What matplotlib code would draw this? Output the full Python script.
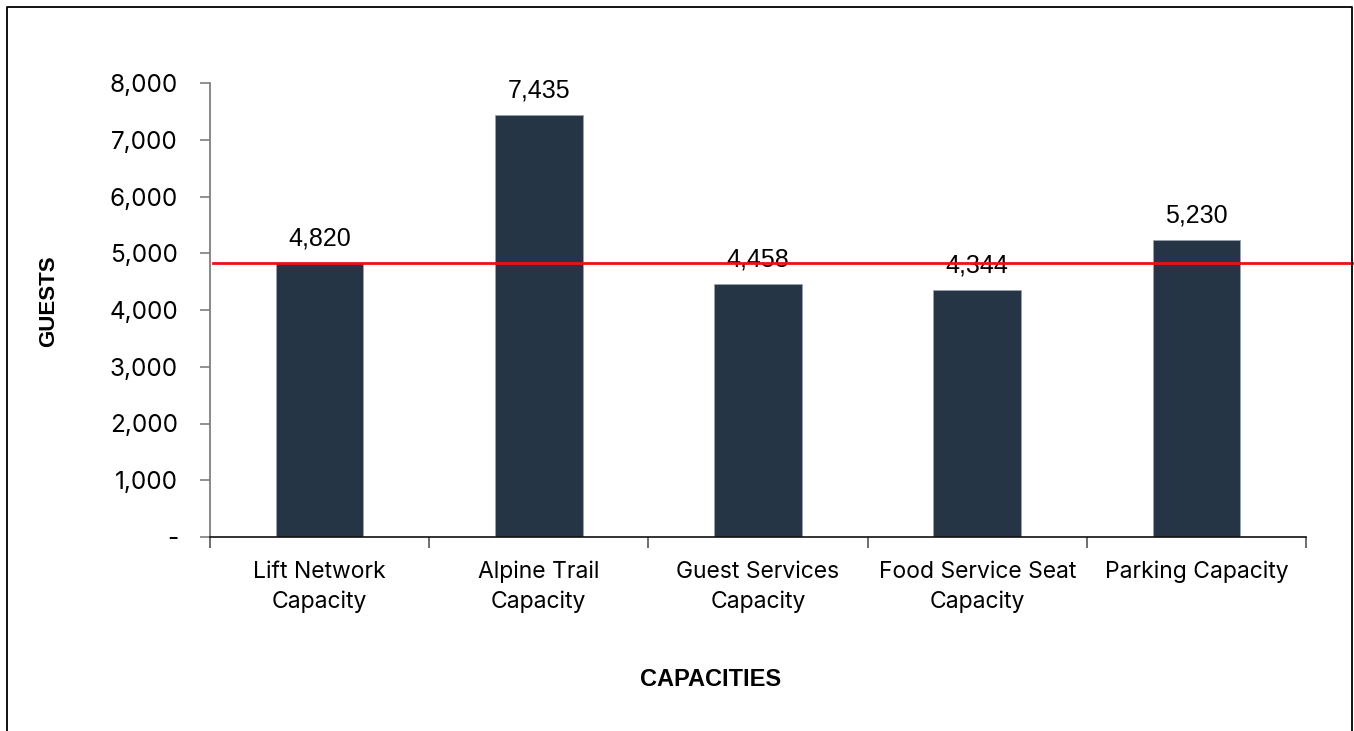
import matplotlib
matplotlib.use("Agg")
import matplotlib.pyplot as plt
from matplotlib.lines import Line2D
from matplotlib.ticker import FuncFormatter

categories = ["Lift Network\nCapacity", "Alpine Trail\nCapacity", "Guest Services\nCapacity",
              "Food Service Seat\nCapacity", "Parking Capacity"]
values = [4820, 7435, 4458, 4344, 5230]
yticks = [0, 1000, 2000, 3000, 4000, 5000, 6000, 7000, 8000]
reference_value = values[0]

W, H = 1354, 731
fig = plt.figure(figsize=(W / 100, H / 100), dpi=100)
ax = fig.add_axes([210 / W, 1 - 537 / H, (1306 - 210) / W, (537 - 83) / H])

x = list(range(len(categories)))
ax.bar(x, values, width=0.4, color="#263545", edgecolor="#9aa3ad", linewidth=0.6, zorder=2)

ax.set_xlim(-0.5, len(categories) - 0.5)
ax.set_ylim(0, 8000)
ax.set_yticks(yticks)
ax.yaxis.set_major_formatter(FuncFormatter(lambda v, p: "-" if v == 0 else f"{int(v):,}"))
ax.tick_params(axis="y", length=7, width=1.2, color="#7f7f7f", pad=16, labelsize=17.5)
for lab in ax.get_yticklabels():
    lab.set_fontfamily("Inter")

ax.set_xticks([i - 0.5 for i in range(len(categories) + 1)])
ax.set_xticklabels([])
ax.set_xticks(x, minor=True)
ax.set_xticklabels(categories, minor=True, fontsize=16.5, fontfamily="Inter", linespacing=1.44)
ax.tick_params(axis="x", which="major", length=8, width=1.2, color="#555555")
ax.tick_params(axis="x", which="minor", length=0, pad=17)

for s in ["top", "right"]:
    ax.spines[s].set_visible(False)
ax.spines["left"].set_color("#7f7f7f")
ax.spines["left"].set_linewidth(1.3)
ax.spines["bottom"].set_color("#111111")
ax.spines["bottom"].set_linewidth(1.2)

for xi, v in zip(x, values):
    ax.annotate(f"{v:,}", (xi, v), xytext=(0, 9), textcoords="offset points",
                ha="center", va="bottom", fontsize=18, fontfamily="Liberation Sans", zorder=3)

ax.axhline(reference_value, xmin=0.003, xmax=(1352 - 210) / (1306 - 210),
           color="#ee1111", linewidth=2, clip_on=False, zorder=4)

fig.text(711 / W, 1 - 679 / H, "CAPACITIES", ha="center", va="center",
         fontsize=17, fontweight="bold", fontfamily="Liberation Sans")
fig.text(49 / W, 1 - 301 / H, "GUESTS", ha="center", va="center", rotation=90,
         fontsize=16, fontweight="bold", fontfamily="Liberation Sans")

# figure border (left, top, right)
fig.add_artist(Line2D([7 / W, 7 / W, 1352 / W, 1352 / W], [0, 1 - 7 / H, 1 - 7 / H, 0],
                      transform=fig.transFigure, color="black", linewidth=1.3))

fig.savefig("out.png", dpi=100)
